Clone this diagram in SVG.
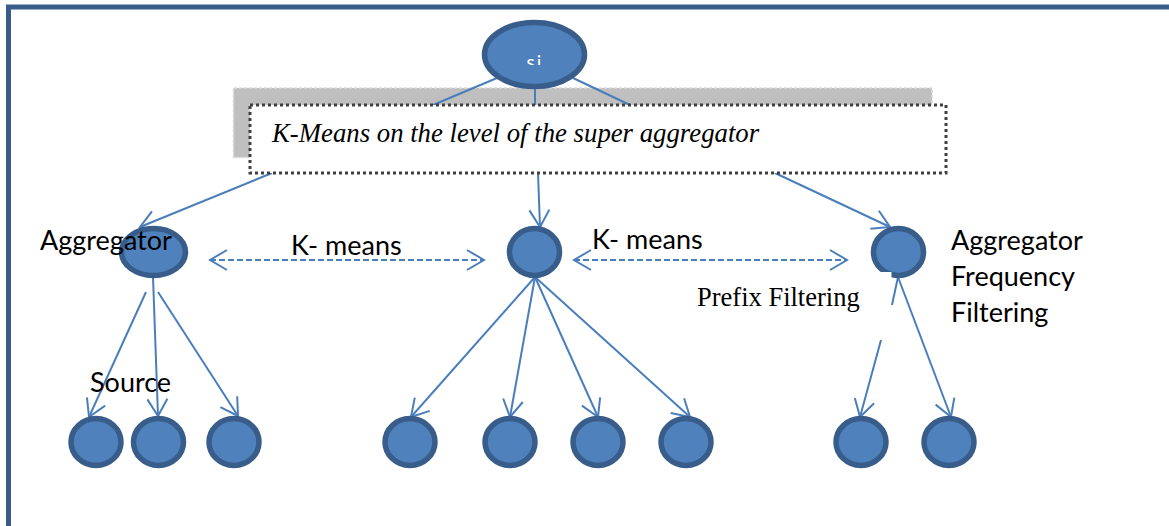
<svg xmlns="http://www.w3.org/2000/svg" width="1169" height="526" viewBox="0 0 1169 526">
<style>
.n{fill:#4f81bd;stroke:#385d8a;stroke-width:5.500}
.c{fill:none;stroke:#4a7ebb;stroke-width:2}
.d{stroke-dasharray:6 3}
.a{marker-end:url(#h)}
.b{marker-start:url(#s);marker-end:url(#h)}
.t{font-family:Lato,"Open Sans",sans-serif;font-size:27px;fill:#000}
.r{font-family:"Liberation Serif",serif;fill:#000}
</style>
<defs>
<marker id="h" markerUnits="userSpaceOnUse" markerWidth="24" markerHeight="24" refX="20" refY="12" orient="auto" overflow="visible"><path d="M3 2 L20 12 L3 22" fill="none" stroke="#4a7ebb" stroke-width="2"/></marker>
<marker id="s" markerUnits="userSpaceOnUse" markerWidth="24" markerHeight="24" refX="4" refY="12" orient="auto" overflow="visible"><path d="M21 2 L4 12 L21 22" fill="none" stroke="#4a7ebb" stroke-width="2"/></marker>
<clipPath id="cl"><rect x="500" y="40" width="70" height="25"/></clipPath>
</defs>
<rect width="1169" height="526" fill="#fff"/>
<path id="frame" d="M8.500 526 V7 H1169" fill="none" stroke="#385d8a" stroke-width="5"/>
<g id="shadow"><path d="M233.500 157.500 V88 H932 V105 H250 V157.500 Z" fill="#bfbfbf" stroke="#d9d9d9" stroke-width="1.500" stroke-dasharray="3 2"/></g>
<g id="connectors">
<path class="c" d="M497 78 L433 105 M535 89 V105 M573 78 L630 105"/>
<path class="c a" d="M272 173 L140 227"/>
<path class="c a" d="M538 173 L540 227"/>
<path class="c a" d="M775 173 L890 227"/>
<path class="c d b" d="M210 260 H484"/>
<path class="c d b" d="M574 260 H847"/>
<path class="c a" d="M146 292 L89 417"/>
<path class="c a" d="M153 277 L158 416"/>
<path class="c a" d="M158 292 L238 416"/>
<path class="c a" d="M535 277 L411 417"/>
<path class="c a" d="M535 277 L510 417"/>
<path class="c a" d="M535 277 L598 417"/>
<path class="c a" d="M535 277 L690 417"/>
<path class="c a" d="M881 340 L860 417"/>
<path class="c" d="M892 305 L898 277"/>
<path class="c a" d="M898 277 L951 417"/>
</g>
<g id="root"><ellipse class="n" cx="534.500" cy="54.500" rx="50" ry="32"/>
<text x="535" y="69" clip-path="url(#cl)" text-anchor="middle" font-family="Lato,sans-serif" font-size="19" fill="#fff" letter-spacing="2">si</text></g>
<g id="banner"><rect x="250" y="105" width="696" height="68" fill="#fff" stroke="#404040" stroke-width="3" stroke-dasharray="3 3"/>
<text class="r" x="272" y="142" font-size="26.750" font-style="italic">K-Means on the level of the super aggregator</text></g>
<g id="agg-left"><ellipse class="n" cx="153.500" cy="252" rx="32" ry="23.500"/></g>
<g id="agg-mid"><ellipse class="n" cx="534.500" cy="252" rx="25" ry="23.500"/></g>
<g id="agg-right"><ellipse class="n" cx="898.500" cy="252" rx="25" ry="23.500"/><rect x="868" y="272" width="23.500" height="9" fill="#fff"/></g>
<g id="src1"><ellipse class="n" cx="96" cy="442" rx="25" ry="23.500"/></g>
<g id="src2"><ellipse class="n" cx="158.500" cy="442" rx="25" ry="23.500"/></g>
<g id="src3"><ellipse class="n" cx="234" cy="442" rx="25" ry="23.500"/></g>
<g id="src4"><ellipse class="n" cx="410" cy="442" rx="25" ry="23.500"/></g>
<g id="src5"><ellipse class="n" cx="510" cy="442" rx="25" ry="23.500"/></g>
<g id="src6"><ellipse class="n" cx="598" cy="442" rx="25" ry="23.500"/></g>
<g id="src7"><ellipse class="n" cx="686" cy="442" rx="25" ry="23.500"/></g>
<g id="src8"><ellipse class="n" cx="861" cy="442" rx="25" ry="23.500"/></g>
<g id="src9"><ellipse class="n" cx="949" cy="442" rx="25" ry="23.500"/></g>
<g id="labels">
<text class="t" x="40" y="250">Aggregator</text>
<text class="t" x="90" y="392">Source</text>
<text class="t" x="291" y="255">K- means</text>
<text class="t" x="592" y="249">K- means</text>
<text class="r" x="697" y="306" font-size="26.500">Prefix Filtering</text>
<text class="t" x="951" y="250">Aggregator</text>
<text class="t" x="951" y="286">Frequency</text>
<text class="t" x="951" y="322">Filtering</text>
</g>
</svg>
